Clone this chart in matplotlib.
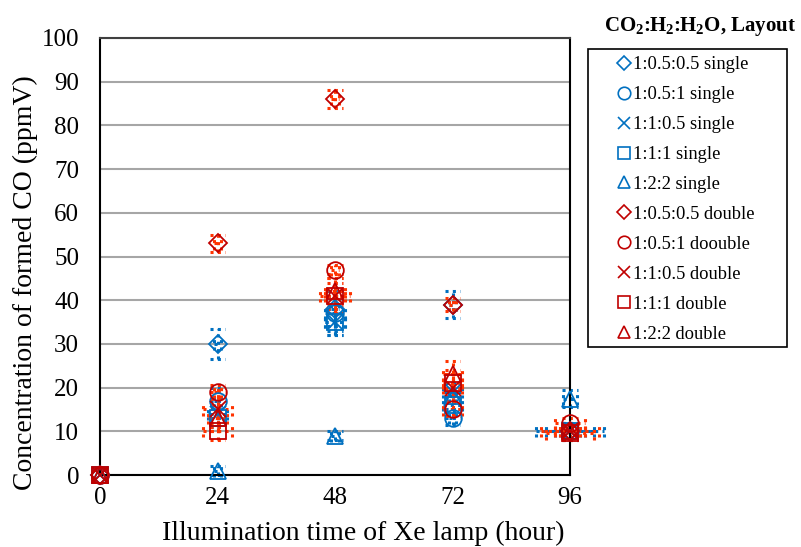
import matplotlib
matplotlib.use("Agg")
import matplotlib.pyplot as plt
from matplotlib.lines import Line2D
from matplotlib.patches import Rectangle

plt.rcParams["font.family"] = ["Liberation Serif", "DejaVu Serif"]
plt.rcParams["mathtext.fontset"] = "custom"
plt.rcParams["mathtext.rm"] = "Liberation Serif"
plt.rcParams["mathtext.bf"] = "Liberation Serif:bold"

# illumination time (hour)
hours = [0, 24, 48, 72, 96]

labels = ["1:0.5:0.5 single", "1:0.5:1 single", "1:1:0.5 single", "1:1:1 single",
          "1:2:2 single", "1:0.5:0.5 double", "1:0.5:1 doouble",
          "1:1:0.5 double", "1:1:1 double", "1:2:2 double"]
markers = ["D", "o", "x", "s", "^", "D", "o", "x", "s", "^"]

# formed CO (ppmV)
single_vals = [
    [0, 30, 38, 39, 10],
    [0, 17, 37, 13, 10],
    [0, 14, 35, 19, 10],
    [0, 13, 35, 16, 10],
    [0, 1, 9, 18, 17.5],
]
double_vals = [
    [0, 53, 86, 39, 10],
    [0, 19, 47, 15, 12],
    [0, 15, 41, 20, 10],
    [0, 10, 41, 21, 9.5],
    [0, 13, 42, 23, 10],
]
single_yerr = [
    [0, 3.5, 4, 3, 1.5],
    [0, 3, 4, 1.5, 2],
    [0, 3, 3, 2, 1.5],
    [0, 3, 3, 3, 2],
    [0, 1, 1, 3, 2],
]
double_yerr = [
    [0, 2, 2, 1.5, 1.5],
    [0, 1.5, 1, 1.5, 1],
    [0, 4, 4, 3, 2],
    [0, 2, 3, 3, 1.5],
    [0, 3, 3, 3, 1.5],
]
single_xerr = [
    [0, 0.8, 0.8, 0.8, 2],
    [0, 0.8, 2, 0.8, 7],
    [0, 2, 2, 2, 3],
    [0, 1.5, 2, 2, 5],
    [0, 0.8, 0.8, 0.8, 1.5],
]
double_xerr = [
    [0, 0.8, 0.8, 0.8, 2],
    [0, 0.8, 0.8, 2, 3],
    [0, 3, 3, 2, 6],
    [0, 3, 2, 2, 5],
    [0, 2, 2, 2, 3],
]

BLUE = "#0070C0"
RED_M = "#C00000"
RED_E = "#FF3300"
DOT = (0, (1, 1.4))


def dotted_errorbars(ax, x, y, xerr, yerr, color, capx=1.6, capy=1.4):
    # Excel-style dotted error bars with dotted caps
    kw = dict(color=color, lw=2.2, ls=DOT, dash_capstyle="butt", zorder=2,
              clip_on=False)
    for xi, yi, xe, ye in zip(x, y, xerr, yerr):
        if ye > 0:
            ax.plot([xi, xi], [yi - ye, yi + ye], **kw)
            for yc in (yi - ye, yi + ye):
                ax.plot([xi - capx, xi + capx], [yc, yc], **kw)
        if xe > 0:
            ax.plot([xi - xe, xi + xe], [yi, yi], **kw)
            for xc in (xi - xe, xi + xe):
                ax.plot([xc, xc], [yi - capy, yi + capy], **kw)


fig = plt.figure(figsize=(8.01, 5.47), dpi=100)
ax = fig.add_axes([100 / 801, 72 / 547, 470 / 801, 437 / 547])

for vals, yerr, xerr in zip(single_vals, single_yerr, single_xerr):
    dotted_errorbars(ax, hours, vals, xerr, yerr, BLUE)
for vals, yerr, xerr in zip(double_vals, double_yerr, double_xerr):
    dotted_errorbars(ax, hours, vals, xerr, yerr, RED_E)

sizes = {"D": 9, "o": 12, "x": 11, "s": 11, "^": 12}
handles = []
for i, vals in enumerate(single_vals + double_vals):
    m = markers[i]
    c = BLUE if i < 5 else RED_M
    ax.plot(hours, vals, ls="none", marker=m, ms=sizes[m], mfc="none",
            mec=c, mew=1.3, zorder=3, clip_on=False)
    handles.append(Line2D([], [], ls="none", marker=m, ms=sizes[m] * 0.75,
                          mfc="none", mec=c, mew=1.2))

ax.set_xlim(0, 96)
ax.set_ylim(0, 100)
ax.set_xticks(hours)
ax.set_yticks(range(0, 101, 10))
ax.tick_params(length=0, labelsize=18, pad=9)
ax.tick_params(axis="y", pad=15)
ax.grid(axis="y", color="#A6A6A6", lw=1.5)
ax.set_axisbelow(True)
for s in ax.spines.values():
    s.set_color("black")
    s.set_linewidth(1.5)
ax.spines["top"].set_color("#404040")

ax.set_xlabel("Illumination time of Xe lamp (hour)", fontsize=20)
ax.set_ylabel("Concentration of formed CO (ppmV)", fontsize=20)
ax.xaxis.set_label_coords(0.56, -0.105)
ax.yaxis.set_label_coords(-0.132, 0.44)

# legend: title above a plain box
fig.text(700 / 801, 1 - 27 / 547,
         r"CO$_\mathbf{2}$:H$_\mathbf{2}$:H$_\mathbf{2}$O, Layout",
         ha="center", va="center", fontsize=15, fontweight="bold")
fig.patches.append(Rectangle((588 / 801, 1 - 347 / 547), 199 / 801, 298 / 547,
                             transform=fig.transFigure, fill=False,
                             ec="black", lw=1.2))
fig.legend(handles, labels, loc="upper left",
           bbox_to_anchor=(607 / 801, 1 - 47 / 547), frameon=False,
           fontsize=13.3, handlelength=0.8, handletextpad=0.1,
           labelspacing=0.7, borderpad=0)

fig.savefig("out.png", dpi=100)
